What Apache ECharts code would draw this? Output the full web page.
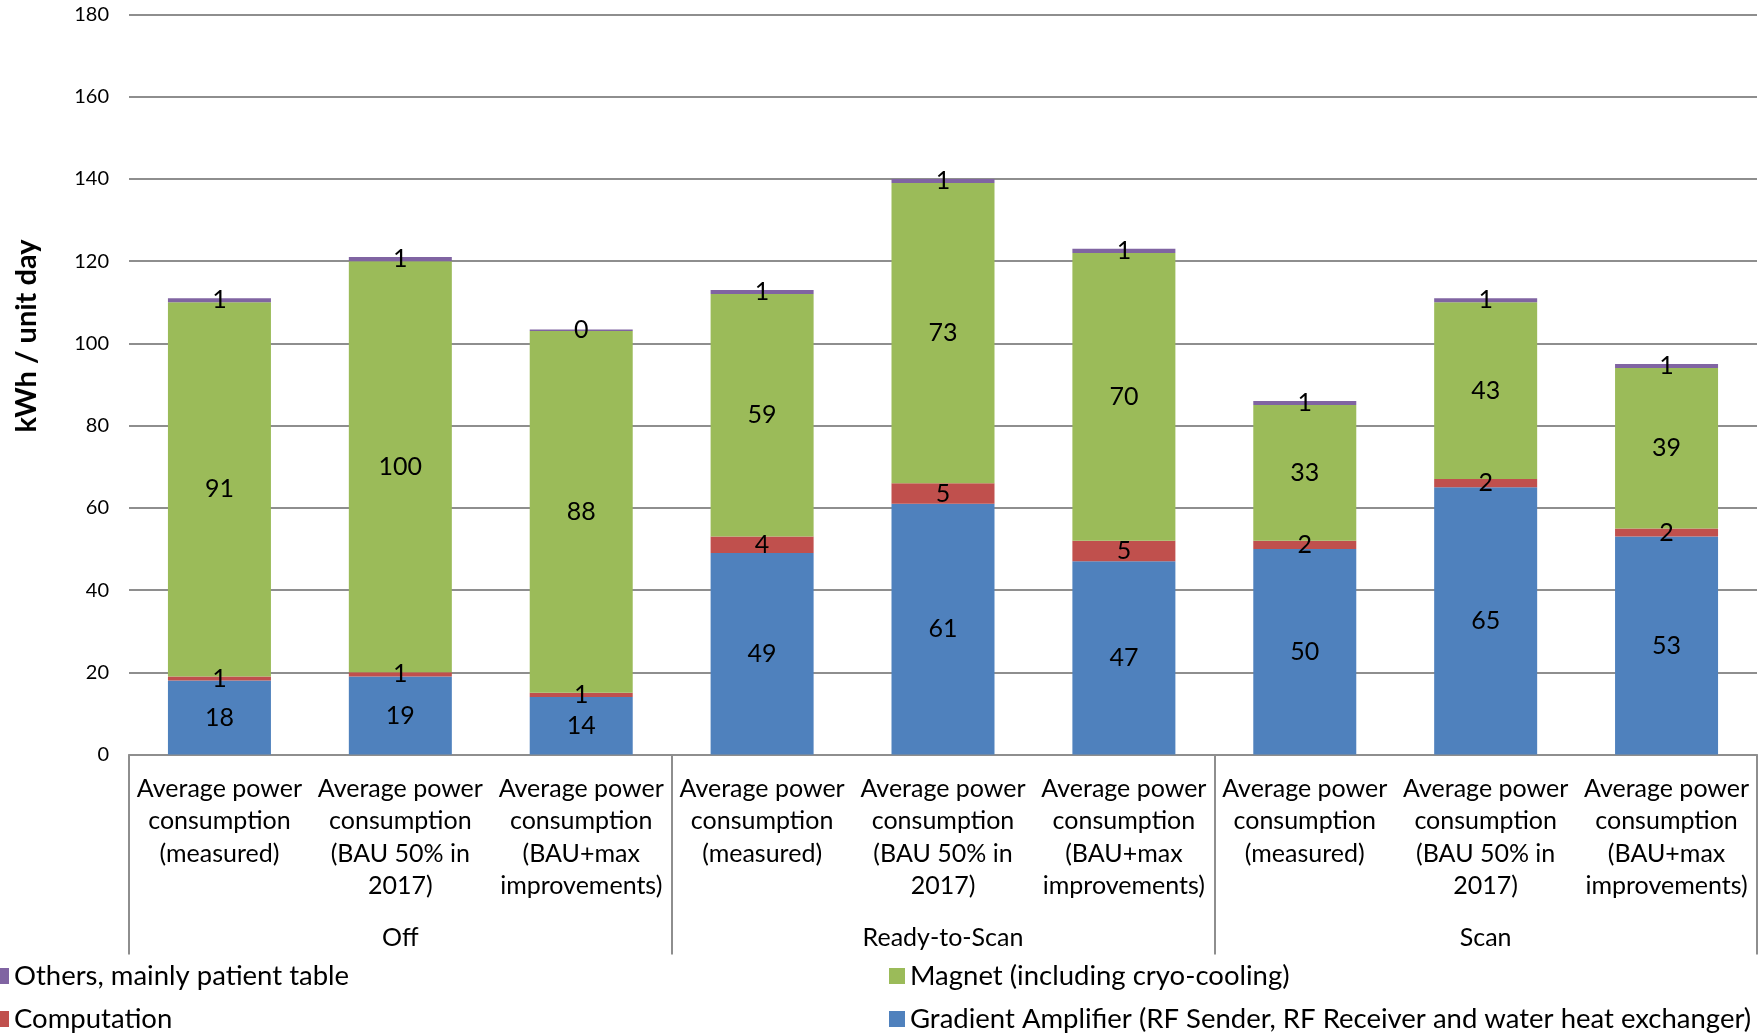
<!DOCTYPE html>
<html>
<head>
<meta charset="utf-8">
<script src="https://cdn.jsdelivr.net/npm/echarts@6/dist/echarts.min.js"></script>
<style>
  html, body { margin: 0; padding: 0; background: #ffffff; }
  #chart { width: 1758px; height: 1034px; }
</style>
</head>
<body>
<div id="chart"></div>
<script>
// Operating modes (outer category level)
const groups = ['Off', 'Ready-to-Scan', 'Scan'];
// Scenarios shown under each mode (inner category level)
const scenarios = [
  'Average power\nconsumption\n(measured)',
  'Average power\nconsumption\n(BAU 50% in\n2017)',
  'Average power\nconsumption\n(BAU+max\nimprovements)'
];
// Y axis tick values
const yTicks = [0, 20, 40, 60, 80, 100, 120, 140, 160, 180];

// kWh per unit-day, one value per bar (Off x3, Ready-to-Scan x3, Scan x3)
const gradientAmplifier = [18, 19, 14, 49, 61, 47, 50, 65, 53];
const computation       = [1, 1, 1, 4, 5, 5, 2, 2, 2];
const magnet            = [91, 100, 88, 59, 73, 70, 33, 43, 39];
const others            = [1, 1, 0.4, 1, 1, 1, 1, 1, 1];

const seriesNames = {
  gradient: 'Gradient Amplifier (RF Sender, RF Receiver and water heat exchanger)',
  computation: 'Computation',
  magnet: 'Magnet (including cryo-cooling)',
  others: 'Others, mainly patient table'
};

const categories = [];
groups.forEach(g => scenarios.forEach(s => categories.push(g + ' – ' + s.replace(/\n/g, ' '))));

const FONT = 'Lato';
const GRID_COLOR = '#8e8e8e';

function stackSeries(name, data, color) {
  return {
    name: name,
    type: 'bar',
    stack: 'total',
    data: data,
    barWidth: 103,
    itemStyle: { color: color },
    label: {
      show: true,
      position: 'inside',
      color: '#000000',
      fontFamily: FONT,
      fontSize: 25,
      formatter: p => String(Math.round(p.value))
    },
    emphasis: { disabled: true }
  };
}

const legendText = { fontFamily: FONT, fontSize: 27.5, color: '#000', lineHeight: 30 };

const chart = echarts.init(document.getElementById('chart'));
chart.setOption({
  animation: false,
  backgroundColor: '#ffffff',
  textStyle: { fontFamily: FONT },
  grid: {
    left: 129, right: 1, top: 14.5, bottom: 279.5,
    outerBoundsMode: 'none'
  },
  legend: [
    {
      data: [seriesNames.others, seriesNames.computation],
      orient: 'vertical',
      left: -7, top: 961,
      padding: 0,
      itemWidth: 16, itemHeight: 16, itemGap: 13,
      icon: 'rect',
      selectedMode: false,
      textStyle: legendText
    },
    {
      data: [seriesNames.magnet, seriesNames.gradient],
      orient: 'vertical',
      left: 889, top: 961,
      padding: 0,
      itemWidth: 16, itemHeight: 16, itemGap: 13,
      icon: 'rect',
      selectedMode: false,
      textStyle: legendText
    }
  ],
  xAxis: [
    {
      type: 'category',
      data: categories,
      position: 'bottom',
      axisLine: { show: true, lineStyle: { color: GRID_COLOR, width: 2 } },
      axisTick: { show: false },
      axisLabel: {
        interval: 0,
        margin: 18,
        fontFamily: FONT,
        fontSize: 25,
        lineHeight: 32.5,
        color: '#000',
        align: 'center',
        formatter: (v, i) => scenarios[i % scenarios.length]
      }
    },
    {
      type: 'category',
      data: groups,
      position: 'bottom',
      axisLine: { show: false },
      axisTick: { show: true, length: 200, interval: 0, lineStyle: { color: GRID_COLOR, width: 2 } },
      axisLabel: {
        interval: 0,
        margin: 168,
        fontFamily: FONT,
        fontSize: 25,
        lineHeight: 30,
        color: '#000'
      },
      splitLine: { show: false }
    }
  ],
  yAxis: {
    type: 'value',
    min: yTicks[0],
    max: yTicks[yTicks.length - 1],
    interval: yTicks[1] - yTicks[0],
    name: 'kWh / unit day',
    nameLocation: 'middle',
    nameGap: 88,
    nameRotate: 90,
    nameTextStyle: {
      fontFamily: FONT,
      fontWeight: 'bold',
      fontSize: 29,
      color: '#000',
      padding: [0, 0, 0, 97]
    },
    axisLine: { show: false },
    axisTick: { show: false },
    axisLabel: {
      margin: 20,
      fontFamily: FONT,
      fontSize: 20,
      color: '#000'
    },
    splitLine: { show: true, lineStyle: { color: GRID_COLOR, width: 2 } }
  },
  series: [
    stackSeries(seriesNames.gradient, gradientAmplifier, '#4f81bd'),
    stackSeries(seriesNames.computation, computation, '#c0504d'),
    stackSeries(seriesNames.magnet, magnet, '#9bbb59'),
    stackSeries(seriesNames.others, others, '#8064a2')
  ]
});
</script>
</body>
</html>
